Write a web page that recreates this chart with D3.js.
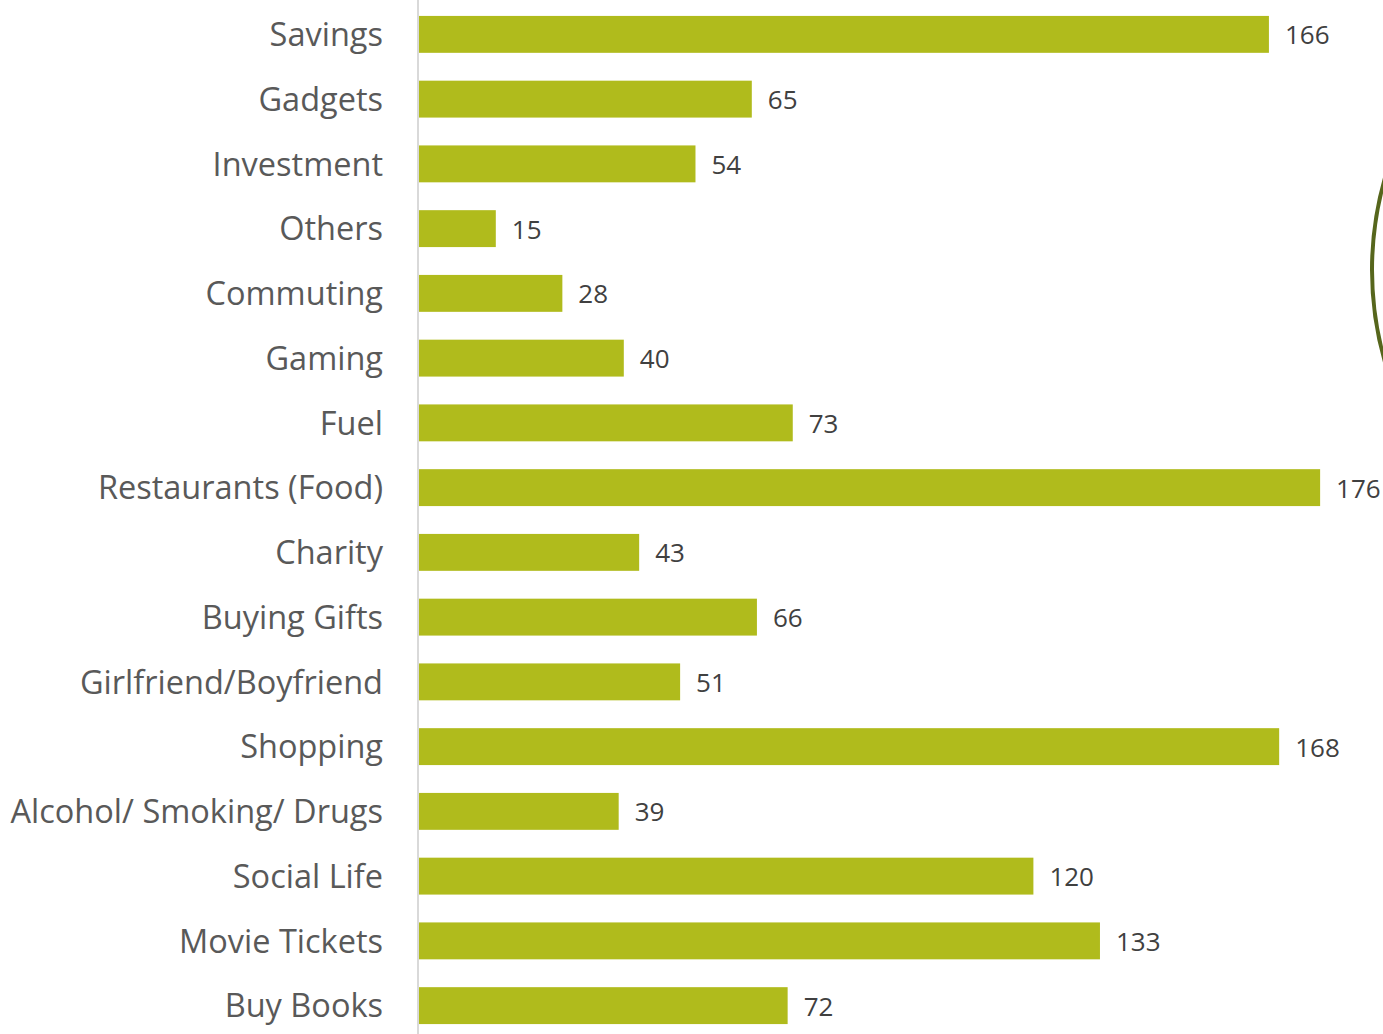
<!DOCTYPE html>
<html>
<head>
<meta charset="utf-8">
<script src="https://cdn.jsdelivr.net/npm/d3@7"></script>
<style>
  html, body { margin: 0; padding: 0; background: #ffffff; }
  svg { display: block; }
</style>
</head>
<body>
<svg id="chart" width="1383" height="1034"></svg>
<script>
// Spending categories, listed top to bottom
const categories = [
  "Savings", "Gadgets", "Investment", "Others", "Commuting", "Gaming", "Fuel",
  "Restaurants (Food)", "Charity", "Buying Gifts", "Girlfriend/Boyfriend",
  "Shopping", "Alcohol/ Smoking/ Drugs", "Social Life", "Movie Tickets", "Buy Books"
];
// Number of responses per category
const values = [166, 65, 54, 15, 28, 40, 73, 176, 43, 66, 51, 168, 39, 120, 133, 72];

const W = 1383, H = 1034;
const svg = d3.select("#chart");
const font = "'Open Sans', 'Noto Sans', sans-serif";

const x = d3.scaleLinear().domain([0, 200]).range([419, 419 + 1024]);
const y = d3.scaleBand().domain(categories).range([2, 1038])
  .paddingInner(0.43).paddingOuter(0.215);

const data = categories.map((c, i) => ({ cat: c, val: values[i] }));

// Decorative arc peeking in at the right edge
svg.append("path")
  .attr("d", d3.arc()({ innerRadius: 332, outerRadius: 336, startAngle: -Math.PI / 2 - 0.28, endAngle: -Math.PI / 2 + 0.28 }))
  .attr("transform", "translate(1706,270)")
  .attr("fill", "#56661c");

// Bars
svg.append("g").selectAll("rect").data(data).join("rect")
  .attr("x", x(0))
  .attr("y", d => y(d.cat))
  .attr("width", d => x(d.val) - x(0))
  .attr("height", y.bandwidth())
  .attr("fill", "#b0bb1c");

// Category axis
const axis = svg.append("g")
  .attr("transform", "translate(418,0)")
  .call(d3.axisLeft(y).tickSize(0).tickPadding(35));
axis.select(".domain").attr("stroke", "#d9d9d9").attr("stroke-width", 2)
  .attr("d", `M0,0V${H}`);
axis.selectAll("text")
  .attr("fill", "#595959")
  .attr("dy", "0.36em")
  .style("font-family", font)
  .style("font-size", "32.5px");

// Value labels
svg.append("g").selectAll("text").data(data).join("text")
  .attr("x", d => x(d.val) + 16)
  .attr("y", d => y(d.cat) + y.bandwidth() / 2 + 1)
  .attr("dy", "0.35em")
  .attr("fill", "#404040")
  .style("font-family", font)
  .style("font-size", "26px")
  .text(d => d.val);
</script>
</body>
</html>
